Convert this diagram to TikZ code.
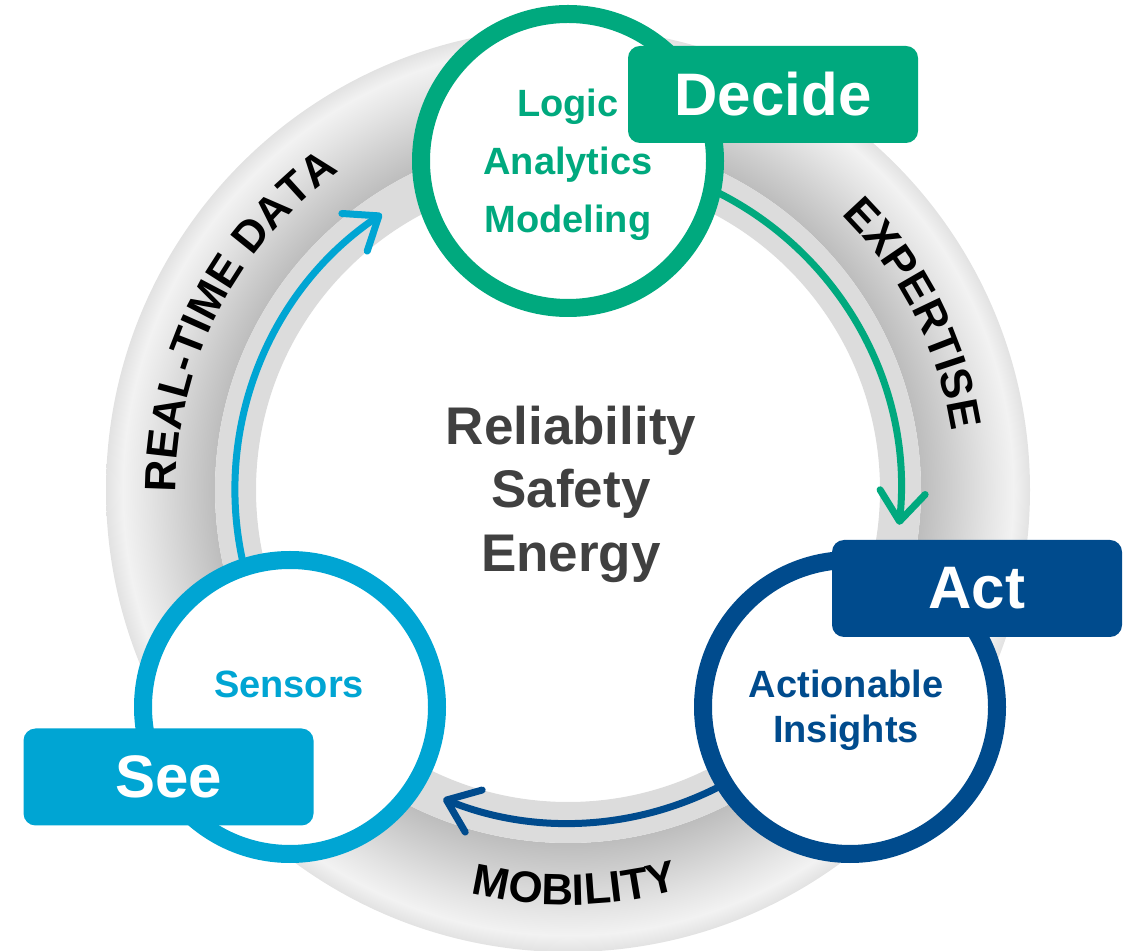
\documentclass[tikz,border=0pt]{standalone}
\usepackage{fontspec}
\setmainfont{Liberation Sans}
\usetikzlibrary{arrows.meta,decorations.text}
\definecolor{decgreen}{RGB}{0,169,126}
\definecolor{seeblue}{RGB}{0,165,211}
\definecolor{actblue}{RGB}{0,75,141}
\definecolor{centergrey}{RGB}{64,64,64}
\definecolor{bandinner}{RGB}{220,220,220}
\definecolor{rgA}{RGB}{189,189,189}
\definecolor{rgB}{RGB}{205,205,205}
\definecolor{rgC}{RGB}{228,228,228}
\definecolor{rgD}{RGB}{242,242,242}
\definecolor{rgE}{RGB}{226,226,226}
\pgfdeclareradialshading{ringshade}{\pgfpoint{0bp}{0bp}}{color(0bp)=(rgA); color(19.1bp)=(rgA); color(20.6bp)=(rgB); color(22.7bp)=(rgC); color(24.1bp)=(rgD); color(25bp)=(rgE); color(50bp)=(rgE)}
\newcommand\ringlabelfont{\fontsize{33pt}{38pt}\selectfont\bfseries}
\newcommand\boxlabelfont{\fontsize{45pt}{54pt}\selectfont\bfseries}
\newcommand\stagefont{\fontsize{28.5pt}{34pt}\selectfont\bfseries}
\newcommand\hubfont{\fontsize{39.75pt}{48pt}\selectfont\bfseries}
\begin{document}
\begin{tikzpicture}[x=0.75pt,y=0.75pt,
  stagecircle/.style={circle, minimum size=220.5pt, inner sep=0pt, line width=13.5pt, fill=white, draw=#1},
  stagebox/.style={rectangle, rounded corners=9pt, fill=#1, minimum width=217.5pt, minimum height=72.75pt, inner sep=0pt, text=white, font=\boxlabelfont},
  stagetext/.style={anchor=base, inner sep=0pt, text=#1, font=\stagefont},
  hubtext/.style={anchor=base, inner sep=0pt, text=centergrey, font=\hubfont},
  flowarrow/.style={draw=#1, line width=5.25pt, line cap=round, -{Straight Barb[round, length=22pt, width=34pt]}},
  ringtext/.style={decorate, decoration={text along path, text={|\ringlabelfont|#1}, text align=center}}
]
\useasboundingbox (0,0) rectangle (1132,950);
\coordinate (C) at (568,460);
% ring
\shade[shading=ringshade, even odd rule] (C) circle[radius=462] (C) circle[radius=353];
\fill[bandinner, even odd rule] (C) circle[radius=353] (C) circle[radius=312];
% ring labels
\path (C) ++(205:392) coordinate (rtdstart);
\path[ringtext={REAL-TIME DATA}] (rtdstart) arc[start angle=205, end angle=101, radius=392];
\path (C) ++(70:388) coordinate (expstart);
\path[ringtext={EXPERTISE}] (expstart) arc[start angle=70, end angle=-16, radius=388];
\path (C) ++(226:415) coordinate (mobstart);
\path[ringtext={MOBILITY}] (mobstart) arc[start angle=226, end angle=316, radius=415];
% arrows
\path (C) ++(198:333) coordinate (bluestart);
\draw[flowarrow=seeblue] (bluestart) arc[start angle=198, end angle=124, radius=333];
\path (C) ++(72:333) coordinate (greenstart);
\draw[flowarrow=decgreen] (greenstart) arc[start angle=72, end angle=-6, radius=333];
\path (C) ++(-55:333) coordinate (darkstart);
\draw[flowarrow=actblue] (darkstart) arc[start angle=-55, end angle=-112, radius=333];
% circles
\node[stagecircle=decgreen] (decide) at (568,789) {};
\node[stagecircle=seeblue] (sensors) at (290,243) {};
\node[stagecircle=actblue] (act) at (850,243) {};
% circle texts
\node[stagetext=decgreen] (logic) at (568,833) {Logic};
\node[stagetext=decgreen] (analytics) at (568,775) {Analytics};
\node[stagetext=decgreen] (modeling) at (568,717) {Modeling};
\node[stagetext=seeblue] (sensorstext) at (289,252) {Sensors};
\node[stagetext=actblue] (actionable) at (846,252) {Actionable};
\node[stagetext=actblue] (insights) at (846,207) {Insights};
% boxes
\node[stagebox=decgreen] (decidebox) at (773,855.5) {Decide};
\node[stagebox=seeblue] (seebox) at (168.5,173) {See};
\node[stagebox=actblue] (actbox) at (977,361.5) {Act};
% hub text
\node[hubtext] (reliability) at (571,505) {Reliability};
\node[hubtext] (safety) at (571,442) {Safety};
\node[hubtext] (energy) at (571,378) {Energy};
\end{tikzpicture}
\end{document}
